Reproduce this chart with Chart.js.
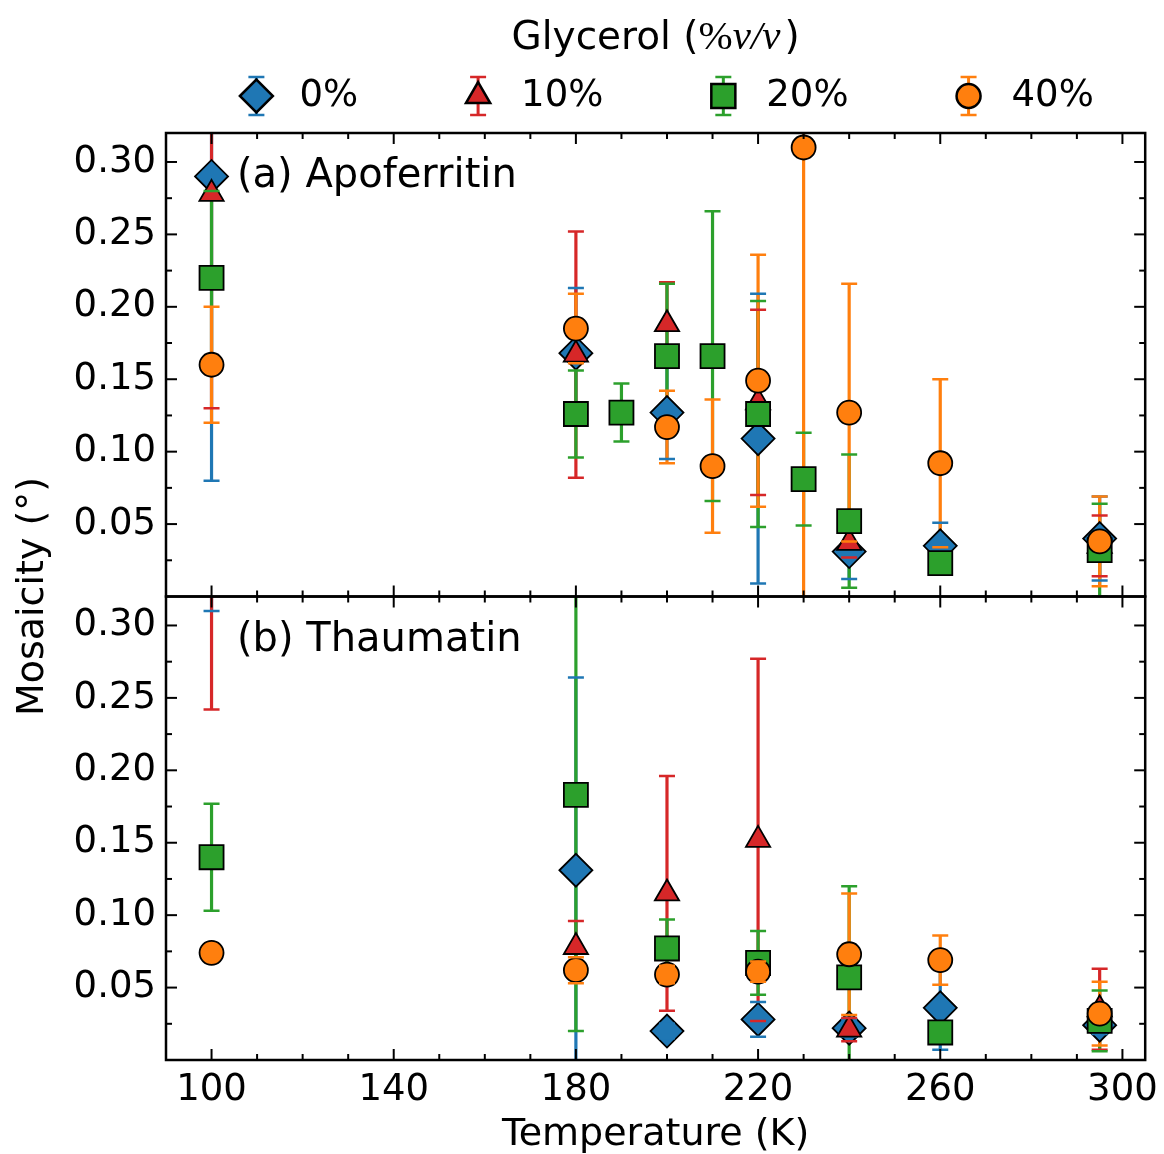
<!DOCTYPE html>
<html>
<head>
<meta charset="utf-8">
<script src="https://cdn.jsdelivr.net/npm/chart.js@4.4.1/dist/chart.umd.min.js"></script>
<style>
  html, body { margin: 0; padding: 0; background: #fff; }
  #wrap { width: 1164px; height: 1154px; }
</style>
</head>
<body>
<div id="wrap"><canvas id="myChart" width="1164" height="1154"></canvas></div>
<script>
// temperatures (K) shared by all series; null = not measured
const temps = [100, 180, 190, 200, 210, 220, 230, 240, 260, 295];
const seriesNames = ['0%', '10%', '20%', '40%'];

// (a) Apoferritin, mosaicity and error (deg)
const apoG0 = [0.290, 0.168, null, 0.127, null, 0.109, null, 0.031, 0.035, 0.040];
const apoG0Err = [0.210, 0.045, null, 0.032, null, 0.100, null, 0.019, 0.016, 0.029];
const apoG10 = [0.278, 0.167, null, 0.188, null, 0.134, null, 0.037, null, 0.035];
const apoG10Err = [0.148, 0.085, null, 0.029, null, 0.064, null, 0.010, null, 0.021];
const apoG20 = [0.220, 0.126, 0.127, 0.166, 0.166, 0.126, 0.081, 0.052, 0.023, 0.032];
const apoG20Err = [0.060, 0.030, 0.020, 0.050, 0.100, 0.078, 0.032, 0.046, 0.006, 0.032];
const apoG40 = [0.160, 0.185, null, 0.117, 0.090, 0.149, 0.310, 0.127, 0.092, 0.038];
const apoG40Err = [0.040, 0.024, null, 0.025, 0.046, 0.087, 0.330, 0.089, 0.058, 0.031];

// (b) Thaumatin
const thaG0 = [0.420, 0.131, null, 0.020, null, 0.028, null, 0.022, 0.036, 0.024];
const thaG0Err = [0.110, 0.133, null, 0.005, null, 0.012, null, 0.006, 0.029, 0.006];
const thaG10 = [0.400, 0.078, null, 0.115, null, 0.152, null, 0.021, null, 0.035];
const thaG10Err = [0.158, 0.018, null, 0.081, null, 0.125, null, 0.008, null, 0.028];
const thaG20 = [0.140, 0.183, null, 0.077, null, 0.067, null, 0.057, 0.019, 0.027];
const thaG20Err = [0.037, 0.163, null, 0.020, null, 0.022, null, 0.063, 0.006, 0.021];
const thaG40 = [0.074, 0.062, null, 0.059, null, 0.061, null, 0.073, 0.069, 0.032];
const thaG40Err = [0.004, 0.009, null, 0.006, null, 0.007, null, 0.042, 0.017, 0.022];

const xLabelTicks = [100, 140, 180, 220, 260, 300];
const yLabelTicks = [0.05, 0.10, 0.15, 0.20, 0.25, 0.30];

const colors = ['#1f77b4', '#d62728', '#2ca02c', '#ff7f0e'];
const markers = ['rectRot', 'triangle', 'rect', 'circle'];
const markerRadius = [16.5, 14, 17, 12];
const FONT = '"DejaVu Sans", sans-serif';
const CAP = 8;

function makeData(values, errors) {
    return temps
        .map((t, i) => (values[i] === null ? null : { x: t, y: values[i], e: errors[i] }))
        .filter(p => p);
}

function makeDatasets(axis, values, errors) {
    return seriesNames.map((name, k) => ({
        label: name,
        data: makeData(values[k], errors[k]),
        yAxisID: axis,
        order: 4 - k,
        showLine: false,
        pointStyle: markers[k],
        pointRadius: markerRadius[k],
        pointHoverRadius: markerRadius[k],
        backgroundColor: colors[k],
        borderColor: '#000',
        pointBorderWidth: 1.8,
        errColor: colors[k],
    }));
}

const datasets = [
    ...makeDatasets('yA', [apoG0, apoG10, apoG20, apoG40], [apoG0Err, apoG10Err, apoG20Err, apoG40Err]),
    ...makeDatasets('yB', [thaG0, thaG10, thaG20, thaG40], [thaG0Err, thaG10Err, thaG20Err, thaG40Err]),
];

function clipTo(ctx, xs, ys) {
    ctx.beginPath();
    ctx.rect(xs.left, ys.top, xs.right - xs.left, ys.bottom - ys.top);
    ctx.clip();
}

function line(ctx, x1, y1, x2, y2) {
    ctx.beginPath();
    ctx.moveTo(x1, y1);
    ctx.lineTo(x2, y2);
    ctx.stroke();
}

// calls fn with pixel positions of each error bar of one dataset
function eachBar(chart, di, fn) {
    const ds = chart.data.datasets[di];
    const meta = chart.getDatasetMeta(di);
    const xs = meta.xScale;
    const ys = meta.yScale;
    const ctx = chart.ctx;
    ctx.save();
    clipTo(ctx, xs, ys);
    ctx.strokeStyle = ds.errColor;
    ds.data.forEach(p => {
        fn(xs.getPixelForValue(p.x), ys.getPixelForValue(p.y + p.e), ys.getPixelForValue(p.y - p.e));
    });
    ctx.restore();
}

function drawErrorIcon(ctx, k, x, y) {
    ctx.save();
    ctx.strokeStyle = colors[k];
    ctx.lineWidth = 3;
    line(ctx, x, y - 19, x, y + 19);
    ctx.lineWidth = 2.5;
    line(ctx, x - CAP, y - 19, x + CAP, y - 19);
    line(ctx, x - CAP, y + 19, x + CAP, y + 19);
    ctx.fillStyle = colors[k];
    ctx.strokeStyle = '#000';
    Chart.helpers.drawPoint(ctx, { pointStyle: markers[k], radius: markerRadius[k], rotation: 0, borderWidth: 1.8 }, x, y);
    ctx.restore();
}

const decorPlugin = {
    id: 'decor',
    beforeDatasetsDraw(chart) {
        // bar lines of every series lie under all markers
        chart.data.datasets.forEach((ds, di) => {
            eachBar(chart, di, (px, top, bot) => {
                chart.ctx.lineWidth = 3.2;
                line(chart.ctx, px, top, px, bot);
            });
        });
    },
    afterDatasetDraw(chart, args) {
        // caps follow their own series' markers
        eachBar(chart, args.index, (px, top, bot) => {
            chart.ctx.lineWidth = 2.5;
            line(chart.ctx, px - CAP, top, px + CAP, top);
            line(chart.ctx, px - CAP, bot, px + CAP, bot);
        });
    },
    afterDatasetsDraw(chart) {
        const ctx = chart.ctx;
        const xs = chart.scales.x;
        const panels = [chart.scales.yA, chart.scales.yB];
        ctx.save();
        ctx.strokeStyle = '#000';
        panels.forEach(ys => {
            ctx.lineWidth = 2;
            xs.ticks.forEach(t => {
                const px = xs.getPixelForValue(t.value);
                if (px <= xs.left + 1 || px >= xs.right - 1) return;
                const len = t.label ? 11 : 6;
                line(ctx, px, ys.top, px, ys.top + len);
                line(ctx, px, ys.bottom, px, ys.bottom - len);
            });
            ys.ticks.forEach(t => {
                const py = ys.getPixelForValue(t.value);
                if (py <= ys.top + 1 || py >= ys.bottom - 1) return;
                const len = t.label ? 11 : 6;
                line(ctx, xs.left, py, xs.left + len, py);
                line(ctx, xs.right, py, xs.right - len, py);
            });
            ctx.lineWidth = 2.5;
            ctx.strokeRect(xs.left, ys.top, xs.right - xs.left, ys.bottom - ys.top);
        });

        // panel labels
        ctx.fillStyle = '#000';
        ctx.font = '40px ' + FONT;
        ctx.textBaseline = 'middle';
        ctx.textAlign = 'left';
        ctx.fillText('(a) Apoferritin', xs.left + 71, chart.scales.yA.top + 44);
        ctx.fillText('(b) Thaumatin', xs.left + 71, chart.scales.yB.top + 44);

        // shared y title
        ctx.save();
        ctx.font = '38px ' + FONT;
        ctx.textAlign = 'center';
        ctx.translate(33, (chart.scales.yA.top + chart.scales.yB.bottom) / 2);
        ctx.rotate(-Math.PI / 2);
        ctx.fillText('Mosaicity (°)', 0, 0);
        ctx.restore();

        // legend title with math part
        const cx = (chart.chartArea.left + chart.chartArea.right) / 2;
        const parts = [
            ['Glycerol (', '39px ' + FONT],
            ['%', '41px "Liberation Serif", serif'],
            ['v/v', 'italic 41px "Liberation Serif", serif'],
            [')', '39px ' + FONT],
        ];
        const gap = p => (p === 'v/v' ? 4 : 0);
        let total = 0;
        parts.forEach(p => { ctx.font = p[1]; total += ctx.measureText(p[0]).width + gap(p[0]); });
        let tx = cx - total / 2;
        ctx.textBaseline = 'alphabetic';
        parts.forEach(p => {
            ctx.font = p[1];
            ctx.fillText(p[0], tx, 49);
            tx += ctx.measureText(p[0]).width + gap(p[0]);
        });

        // legend entries
        ctx.font = '37px ' + FONT;
        ctx.textBaseline = 'middle';
        const widths = seriesNames.map(n => ctx.measureText(n).width);
        const groupW = 17 + widths.reduce((a, w) => a + 43 + w, 0) + 120 * (seriesNames.length - 1);
        let mx = cx + 11 - groupW / 2 + 17;
        const ly = 96;
        seriesNames.forEach((name, k) => {
            drawErrorIcon(ctx, k, mx, ly);
            ctx.fillStyle = '#000';
            ctx.fillText(name, mx + 43, ly);
            mx += 43 + widths[k] + 120;
        });
        ctx.restore();
    },
};

function yScale() {
    return {
        type: 'linear',
        position: 'left',
        stack: 'panels',
        stackWeight: 1,
        min: 0,
        max: 0.32,
        grid: { display: false, drawTicks: false },
        border: { display: false },
        ticks: {
            stepSize: 0.025,
            includeBounds: false,
            autoSkip: false,
            padding: 10,
            color: '#000',
            font: { size: 37, family: FONT },
            callback: v => (yLabelTicks.some(t => Math.abs(t - v) < 1e-6) ? v.toFixed(2) : ''),
        },
        afterFit: s => {
            s.width = 166;
            s.paddingTop = 0;
            s.paddingBottom = 0;
        },
    };
}

const ctx = document.getElementById('myChart').getContext('2d');
new Chart(ctx, {
    type: 'scatter',
    data: { datasets },
    options: {
        responsive: false,
        animation: false,
        devicePixelRatio: 1,
        layout: { padding: { top: 133, right: 14, bottom: 0, left: 0 } },
        plugins: {
            legend: { display: false },
            tooltip: { enabled: false },
        },
        scales: {
            x: {
                type: 'linear',
                position: 'bottom',
                min: 90,
                max: 305,
                grid: { display: false, drawTicks: false },
                border: { display: false },
                ticks: {
                    stepSize: 10,
                    includeBounds: false,
                    autoSkip: false,
                    maxRotation: 0,
                    padding: 8,
                    color: '#000',
                    font: { size: 37, family: FONT },
                    callback: v => (xLabelTicks.includes(Math.round(v)) ? String(Math.round(v)) : ''),
                },
                title: {
                    display: true,
                    text: 'Temperature (K)',
                    color: '#000',
                    font: { size: 38, family: FONT, lineHeight: 1 },
                    padding: { top: 0, bottom: 0 },
                },
                afterFit: s => {
                    s.height = 94;
                    s.paddingLeft = 0;
                    s.paddingRight = 0;
                },
            },
            yB: yScale(),
            yA: yScale(),
        },
    },
    plugins: [decorPlugin],
});
</script>
</body>
</html>
